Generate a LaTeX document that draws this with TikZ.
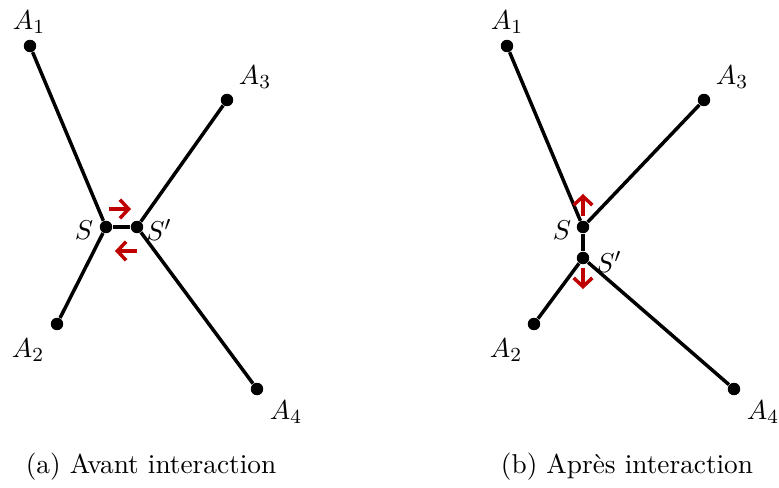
\documentclass[tikz,border=0pt]{standalone}
\usetikzlibrary{arrows.meta}
\begin{document}
\begin{tikzpicture}[x=0.0141cm, y=-0.0141cm,
  every node/.style={font=\fontsize{10.95}{13}\selectfont},
  pt/.style={circle, fill=black, inner sep=0pt, minimum size=5pt},
  edge/.style={line width=1.4pt},
  move/.style={line width=1.4pt, red!75!black, -{Straight Barb[length=3.5pt, width=7.5pt]}}]
\useasboundingbox (0,0) rectangle (779,488);
% (a) avant interaction
\node[pt] (a1) at (30,46) {};
\node[pt] (a2) at (57,324) {};
\node[pt] (a3) at (227,100) {};
\node[pt] (a4) at (257,389) {};
\node[pt] (s) at (106,227) {};
\node[pt] (sp) at (137,227) {};
\draw[edge] (a1) -- (s) -- (a2);
\draw[edge] (a3) -- (sp) -- (a4);
\draw[edge] (s) -- (sp);
\coordinate (m1a) at (109,209); \coordinate (m1b) at (131,209);
\coordinate (m2a) at (137,251); \coordinate (m2b) at (115,251);
\draw[move] (m1a) -- (m1b);
\draw[move] (m2a) -- (m2b);
\node (la1) at (29,22) {$A_1$};
\node (la2) at (28,350) {$A_2$};
\node (la3) at (255,77) {$A_3$};
\node (la4) at (286,412) {$A_4$};
\node (ls) at (84,230) {$S$};
\node (lsp) at (159,230) {$S'$};
\node (capa) at (151,467) {(a) Avant interaction};
% (b) apres interaction
\node[pt] (b1) at (507,46) {};
\node[pt] (b2) at (534,324) {};
\node[pt] (b3) at (704,100) {};
\node[pt] (b4) at (734,389) {};
\node[pt] (t) at (583,227) {};
\node[pt] (tp) at (583,258) {};
\draw[edge] (b1) -- (t) -- (b3);
\draw[edge] (b2) -- (tp) -- (b4);
\draw[edge] (t) -- (tp);
\coordinate (n1a) at (583,216); \coordinate (n1b) at (583,194);
\coordinate (n2a) at (583,268); \coordinate (n2b) at (583,289);
\draw[move] (n1a) -- (n1b);
\draw[move] (n2a) -- (n2b);
\node (lb1) at (507,22) {$A_1$};
\node (lb2) at (506,350) {$A_2$};
\node (lb3) at (732,77) {$A_3$};
\node (lb4) at (763,412) {$A_4$};
\node (lt) at (562,230) {$S$};
\node (ltp) at (609,262) {$S'$};
\node (capb) at (627,467) {(b) Apr\`es interaction};
\end{tikzpicture}
\end{document}
